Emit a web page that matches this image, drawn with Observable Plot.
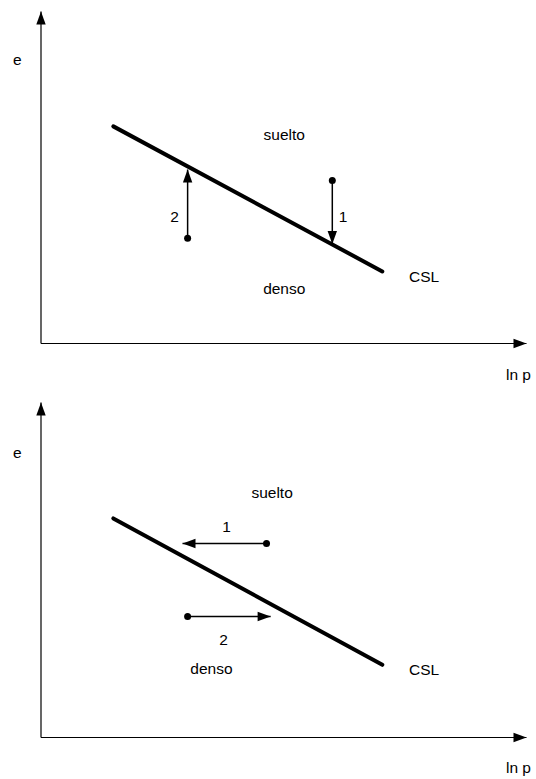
<!DOCTYPE html>
<html>
<head>
<meta charset="utf-8">
<script src="https://cdn.jsdelivr.net/npm/d3@7"></script>
<script src="https://cdn.jsdelivr.net/npm/@observablehq/plot@0.6"></script>
<style>
  html, body { margin: 0; padding: 0; background: #fff; }
  #chart svg { display: block; }
</style>
</head>
<body>
<div id="chart"></div>
<script>
// Critical state line (e vs ln p), schematic units 0–100
const cslLine = [{x: 14.9, y: 65.4}, {x: 70.3, y: 21.7}];

// Top panel: paths at constant ln p (vertical moves)
const topMoves = [
  {id: "1", x1: 60.0, y1: 49.1, x2: 60.0, y2: 30.0},
  {id: "2", x1: 30.2, y1: 31.7, x2: 30.2, y2: 52.4}
];
const topLabels = [
  {text: "suelto", x: 50.1, y: 62.65},
  {text: "denso", x: 50.1, y: 16.3},
  {text: "CSL", x: 78.9, y: 19.9},
  {text: "2", x: 27.5, y: 38.0},
  {text: "1", x: 62.2, y: 38.0},
  {text: "e", x: -4.9, y: 85.5},
  {text: "ln p", x: 98.35, y: -9.6}
];

// Bottom panel: paths at constant e (horizontal moves)
const bottomMoves = [
  {id: "1", x1: 46.45, y1: 57.9, x2: 29.15, y2: 57.9},
  {id: "2", x1: 30.2, y1: 36.1, x2: 47.3, y2: 36.1}
];
const bottomLabels = [
  {text: "suelto", x: 47.6, y: 73.1},
  {text: "denso", x: 35.1, y: 20.3},
  {text: "CSL", x: 78.9, y: 20.1},
  {text: "1", x: 38.2, y: 62.7},
  {text: "2", x: 37.6, y: 29.0},
  {text: "e", x: -4.9, y: 84.8},
  {text: "ln p", x: 98.35, y: -9.0}
];

// Axes (from origin to the arrow tips)
const axes = [
  {x1: 0, y1: 0, x2: 0, y2: 100},
  {x1: 0, y1: 0, x2: 100, y2: 0}
];

// filled arrowhead: tip at origin, pointing up before rotation
const head = {
  draw(ctx) {
    ctx.moveTo(0, 0);
    ctx.lineTo(4.7, 13);
    ctx.lineTo(-4.7, 13);
    ctx.closePath();
  }
};
const angle = d => {
  const dx = d.x2 - d.x1, dy = d.y2 - d.y1;
  if (Math.abs(dx) > Math.abs(dy)) return dx > 0 ? 90 : -90;
  return dy > 0 ? 0 : 180;
};

const font = "'Liberation Sans', Arial, Helvetica, sans-serif";

function panel(moves, labels, height, marginTop, marginBottom) {
  return Plot.plot({
    width: 536,
    height,
    marginLeft: 40.5,
    marginRight: 10,
    marginTop,
    marginBottom,
    x: {domain: [0, 100], axis: null},
    y: {domain: [0, 100], axis: null},
    style: {fontFamily: font, fontSize: "15.5px", background: "white", color: "black"},
    marks: [
      Plot.link(axes, {x1: "x1", y1: "y1", x2: "x2", y2: "y2", stroke: "black", strokeWidth: 1.2}),
      Plot.dot(axes, {x: "x2", y: "y2", symbol: head, rotate: angle, fill: "black", stroke: "none"}),
      Plot.line(cslLine, {x: "x", y: "y", stroke: "black", strokeWidth: 4, strokeLinecap: "round"}),
      Plot.link(moves, {x1: "x1", y1: "y1", x2: "x2", y2: "y2", stroke: "black", strokeWidth: 1.5}),
      Plot.dot(moves, {x: "x2", y: "y2", symbol: head, rotate: angle, fill: "black", stroke: "none"}),
      Plot.dot(moves, {x: "x1", y: "y1", r: 3.5, fill: "black", stroke: "none"}),
      Plot.text(labels, {x: "x", y: "y", text: "text", fontSize: 15.5, fill: "black"})
    ]
  });
}

const chart = document.getElementById("chart");
chart.appendChild(panel(topMoves, topLabels, 390, 11, 47));
chart.appendChild(panel(bottomMoves, bottomLabels, 389, 12, 42));
</script>
</body>
</html>
